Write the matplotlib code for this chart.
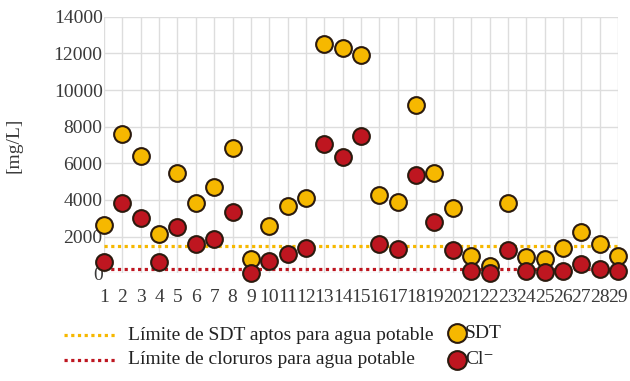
import matplotlib
matplotlib.use("Agg")
import matplotlib.pyplot as plt
from matplotlib.lines import Line2D

# ---- data ----
samples = list(range(1, 30))
sdt = [2650, 7600, 6400, 2150, 5450, 3850, 4700, 6850, 800, 2600,
       3650, 4100, 12500, 12300, 11900, 4250, 3900, 9200, 5450, 3550,
       950, 400, 3850, 900, 800, 1400, 2250, 1600, 950]
cl = [600, 3850, 3000, 600, 2500, 1600, 1850, 3350, 0, 650,
      1050, 1400, 7050, 6350, 7500, 1600, 1300, 5350, 2800, 1250,
      100, 0, 1250, 100, 50, 100, 500, 250, 100]
sdt_limit = 1500
cl_limit = 250
yticks = [0, 2000, 4000, 6000, 8000, 10000, 12000, 14000]
ylabel = "[mg/L]"
label_sdt_line = "Límite de SDT aptos para agua potable"
label_cl_line = "Límite de cloruros para agua potable"
label_sdt = "SDT"
label_cl = "Cl⁻"

YELLOW = "#F6B800"
RED = "#BE1620"
EDGE = "#2B1A0E"
TEXT = "#3A3A3A"
SERIF = ["Liberation Serif", "DejaVu Serif"]

fig = plt.figure(figsize=(6.3, 3.81), dpi=100)
ax = fig.add_axes([104/630, 1 - 273.3/381, (618 - 104)/630, (273.3 - 16.7)/381])

ax.axhline(sdt_limit, color=YELLOW, lw=2.3, ls=(0, (1, 1.1)), zorder=2)
ax.axhline(cl_limit, color=RED, lw=2.3, ls=(0, (1, 1.1)), zorder=2)

ax.scatter(samples, sdt, s=145, color=YELLOW, edgecolor=EDGE, linewidth=1.5,
           zorder=3, clip_on=False)
ax.scatter(samples, cl, s=145, color=RED, edgecolor=EDGE, linewidth=1.5,
           zorder=4, clip_on=False)

ax.set_xlim(1, 29)
ax.set_ylim(0, 14000)
ax.set_xticks(samples)
ax.set_xticklabels([str(s) for s in samples])
ax.set_yticks(yticks)
ax.grid(True, color="#DDDDDD", lw=1.0, zorder=0)
ax.set_axisbelow(True)
for sp in ax.spines.values():
    sp.set_visible(False)
ax.tick_params(length=0, labelsize=14, labelcolor=TEXT)
ax.tick_params(axis="y", pad=1)
ax.tick_params(axis="x", pad=11)
for lab in ax.get_xticklabels() + ax.get_yticklabels():
    lab.set_family(SERIF)
ax.set_ylabel(ylabel, family=SERIF, fontsize=14, color=TEXT)
ax.yaxis.set_label_coords(-(104 - 23) / 514, 0.5)

# ---- legend (figure-level) ----
def fx(px):
    return px / 630

def fy(py):
    return 1 - py / 381

for py, col, txt in [(335, YELLOW, label_sdt_line), (360, RED, label_cl_line)]:
    fig.add_artist(Line2D([fx(64), fx(116)], [fy(py), fy(py)], color=col, lw=2.3,
                          ls=(0, (1, 1.1)), transform=fig.transFigure))
    fig.text(fx(128), fy(py), txt, family=SERIF, fontsize=14, color="#222222",
             va="center", ha="left")

for py, col, txt in [(333, YELLOW, label_sdt), (360, RED, label_cl)]:
    fig.add_artist(Line2D([fx(457)], [fy(py)], marker="o", markersize=13.5,
                          markerfacecolor=col, markeredgecolor=EDGE,
                          markeredgewidth=1.5, transform=fig.transFigure))
    fig.text(fx(465), fy(py), txt, family=SERIF, fontsize=14, color="#222222",
             va="center", ha="left")

fig.savefig("out.png", dpi=100)
